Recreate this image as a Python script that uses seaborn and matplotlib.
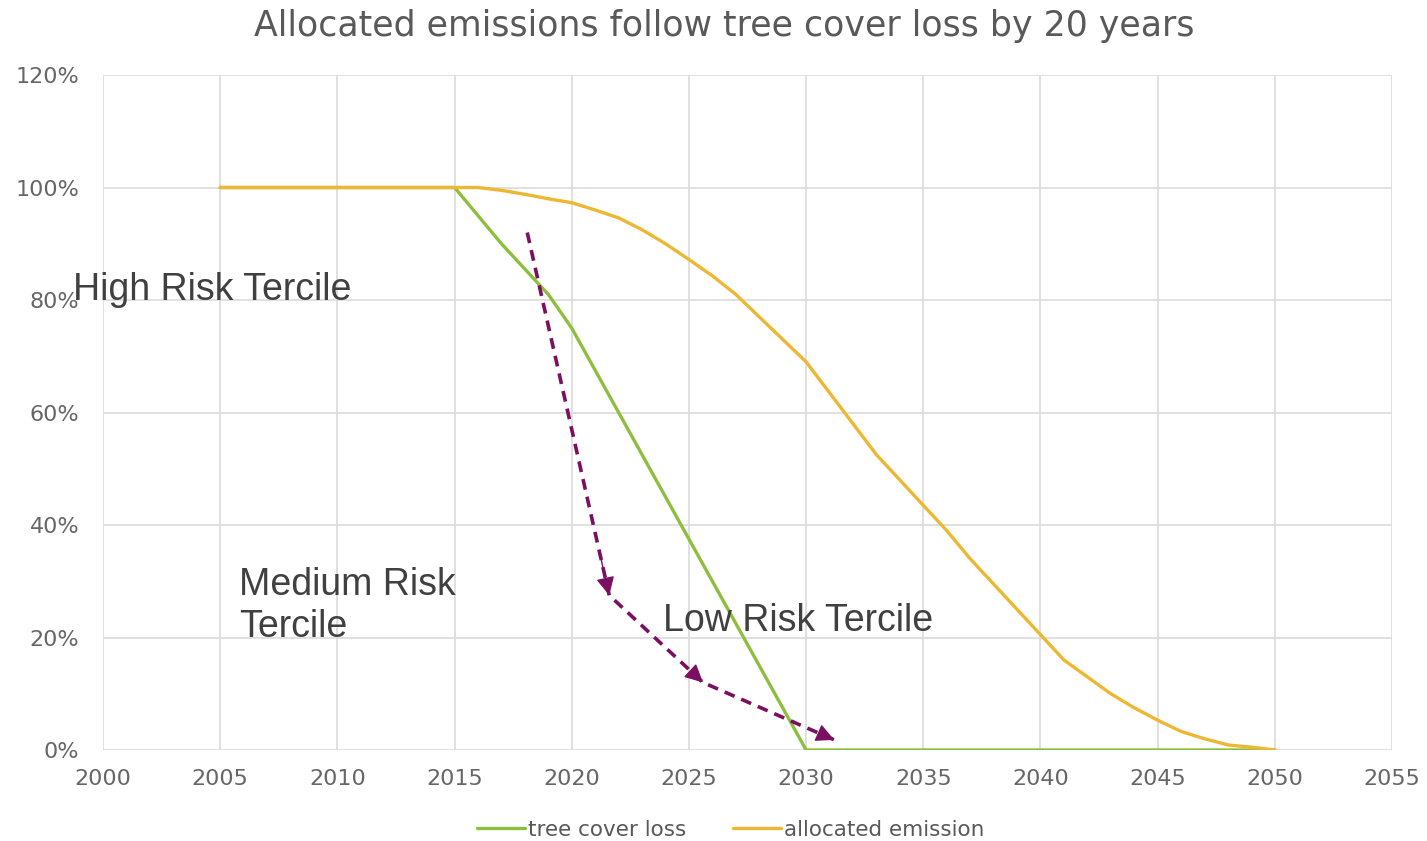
import pandas as pd
import matplotlib.pyplot as plt
import seaborn as sns
from matplotlib.ticker import PercentFormatter

# Chart data (values in percent)
years = list(range(2005, 2051))
tree_cover_loss = [100] * 11 + [95, 90, 85.5, 81, 75, 67.5, 60, 52.5, 45, 37.5,
                                30, 22.5, 15, 7.5, 0] + [0] * 20
allocated_emission = [100] * 12 + [99.5, 98.8, 98, 97.3, 96, 94.6, 92.5, 90, 87.2, 84.3,
                                   81, 77, 73, 69, 63.5, 58, 52.5, 48, 43.5, 39,
                                   34, 29.5, 25, 20.5, 16, 13, 10, 7.5, 5.3, 3.3,
                                   2, 0.9, 0.5, 0]
series_names = ['tree cover loss', 'allocated emission']

# Dashed purple arrow path (year, percent)
arrow_x = [2018.1, 2021.6, 2025.6, 2031.2]
arrow_y = [92, 27.5, 12, 1.8]

# Tercile labels: (text, year, percent)
labels = [('High Risk Tercile', 1998.7, 81.8),
          ('Medium Risk\nTercile', 2005.8, 25.6),
          ('Low Risk Tercile', 2023.9, 22.9)]

df = pd.DataFrame({
    'Year': years * 2,
    'Value': tree_cover_loss + allocated_emission,
    'Series': [series_names[0]] * len(years) + [series_names[1]] * len(years),
})

sns.set_style("whitegrid")
plt.rcParams['font.family'] = ['DejaVu Sans']

fig = plt.figure(figsize=(14.27, 8.41), dpi=100)
ax = fig.add_axes([0.0722, 0.1082, 0.9033, 0.8026])

sns.lineplot(data=df, x='Year', y='Value', hue='Series',
             palette=['#8DBF3E', '#EDB732'], linewidth=2.4, ax=ax)

ax.set_xlim(2000, 2055)
ax.set_ylim(0, 120)
ax.set_xticks(range(2000, 2056, 5))
ax.set_yticks(range(0, 121, 20))
ax.yaxis.set_major_formatter(PercentFormatter(decimals=0))
ax.set_xlabel('')
ax.set_ylabel('')
ax.grid(color='#DDDDDD', linewidth=1.3)
for s in ax.spines.values():
    s.set_visible(False)
ax.tick_params(length=0, labelsize=16, labelcolor='#666666')
ax.tick_params(axis='y', pad=17)
ax.tick_params(axis='x', pad=14)

ax.set_title('Allocated emissions follow tree cover loss by 20 years',
             fontsize=25, color='#595959', pad=28, x=0.482)

sns.move_legend(ax, 'upper center', bbox_to_anchor=(0.487, -0.075), ncol=2,
                frameon=False, title=None, fontsize=15.5, handlelength=2.2,
                columnspacing=2.2, handletextpad=0.15)
for t in ax.get_legend().get_texts():
    t.set_color('#595959')

# Dashed arrows: dashed shafts, solid heads
purple = '#7B1060'
ax.plot(arrow_x, arrow_y, color=purple, lw=2.6, linestyle=(0, (3, 2)),
        dash_capstyle='butt', solid_joinstyle='round')
for i in range(1, len(arrow_x)):
    x0, y0 = arrow_x[i - 1], arrow_y[i - 1]
    x1, y1 = arrow_x[i], arrow_y[i]
    t = 0.9
    ax.annotate('', xy=(x1, y1), xytext=(x0 + t * (x1 - x0), y0 + t * (y1 - y0)),
                arrowprops=dict(arrowstyle='-|>', color=purple, lw=1,
                                mutation_scale=28, shrinkA=0, shrinkB=0))

for text, x, y in labels:
    ax.text(x, y, text, fontsize=27, color='#404040', va='center', ha='left',
            family=['Liberation Sans', 'DejaVu Sans'], clip_on=False)

fig.savefig('out.png', dpi=100)
